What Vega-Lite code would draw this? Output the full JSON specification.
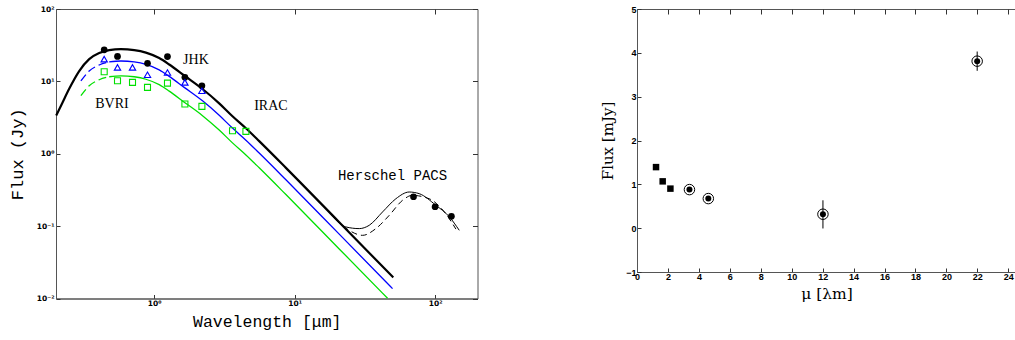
{
  "$schema": "https://vega.github.io/schema/vega-lite/v6.json",
  "background": "white",
  "padding": {"left": 7, "top": 4, "right": 0, "bottom": 0},
  "spacing": 121,
  "config": {
    "view": {"stroke": "#555", "strokeWidth": 1},
    "axis": {
      "grid": false,
      "labelFont": "DejaVu Sans",
      "labelFontWeight": "bold",
      "labelColor": "black",
      "labelFontSize": 7.5,
      "domainColor": "#555",
      "tickColor": "#333",
      "titleFontWeight": "normal",
      "titleColor": "black"
    }
  },
  "datasets": {
    "curves": [
      {"s": "black", "x": 0.2007, "y": 3.37},
      {"s": "black", "x": 0.2214, "y": 5.0},
      {"s": "black", "x": 0.2483, "y": 7.9},
      {"s": "black", "x": 0.2925, "y": 13.88},
      {"s": "black", "x": 0.3446, "y": 20.3},
      {"s": "black", "x": 0.406, "y": 24.6},
      {"s": "black", "x": 0.4783, "y": 27.06},
      {"s": "black", "x": 0.5794, "y": 27.9},
      {"s": "black", "x": 0.7208, "y": 27.06},
      {"s": "black", "x": 0.8727, "y": 25.0},
      {"s": "black", "x": 1.0853, "y": 21.05},
      {"s": "black", "x": 1.279, "y": 17.12},
      {"s": "black", "x": 1.635, "y": 12.06},
      {"s": "black", "x": 2.207, "y": 7.85},
      {"s": "black", "x": 2.901, "y": 4.97},
      {"s": "black", "x": 3.591, "y": 3.327},
      {"s": "black", "x": 4.495, "y": 2.25},
      {"s": "black", "x": 5.588, "y": 1.493},
      {"s": "black", "x": 8.659, "y": 0.6385},
      {"s": "black", "x": 20.74, "y": 0.1132},
      {"s": "black", "x": 50.24, "y": 0.01956},
      {"s": "blue_d", "x": 0.3008, "y": 10.14},
      {"s": "blue_d", "x": 0.3446, "y": 13.9},
      {"s": "blue_d", "x": 0.406, "y": 16.85},
      {"s": "blue_d", "x": 0.4783, "y": 18.54},
      {"s": "blue", "x": 0.4783, "y": 18.54},
      {"s": "blue", "x": 0.5794, "y": 19.11},
      {"s": "blue", "x": 0.7208, "y": 18.54},
      {"s": "blue", "x": 0.8727, "y": 17.13},
      {"s": "blue", "x": 1.0853, "y": 14.42},
      {"s": "blue", "x": 1.279, "y": 11.73},
      {"s": "blue", "x": 1.635, "y": 8.26},
      {"s": "blue", "x": 2.207, "y": 5.38},
      {"s": "blue", "x": 2.901, "y": 3.4},
      {"s": "blue", "x": 3.591, "y": 2.28},
      {"s": "blue", "x": 4.495, "y": 1.541},
      {"s": "blue", "x": 5.588, "y": 1.023},
      {"s": "blue", "x": 8.659, "y": 0.437},
      {"s": "blue", "x": 20.74, "y": 0.0775},
      {"s": "blue", "x": 49.7, "y": 0.0137},
      {"s": "green_d", "x": 0.3008, "y": 6.34},
      {"s": "green_d", "x": 0.3446, "y": 8.69},
      {"s": "green_d", "x": 0.406, "y": 10.53},
      {"s": "green_d", "x": 0.4783, "y": 11.58},
      {"s": "green", "x": 0.4783, "y": 11.58},
      {"s": "green", "x": 0.5794, "y": 11.94},
      {"s": "green", "x": 0.7208, "y": 11.58},
      {"s": "green", "x": 0.8727, "y": 10.7},
      {"s": "green", "x": 1.0853, "y": 9.01},
      {"s": "green", "x": 1.279, "y": 7.33},
      {"s": "green", "x": 1.635, "y": 5.16},
      {"s": "green", "x": 2.207, "y": 3.36},
      {"s": "green", "x": 2.901, "y": 2.127},
      {"s": "green", "x": 3.591, "y": 1.424},
      {"s": "green", "x": 4.495, "y": 0.963},
      {"s": "green", "x": 5.588, "y": 0.639},
      {"s": "green", "x": 8.659, "y": 0.273},
      {"s": "green", "x": 20.74, "y": 0.0484},
      {"s": "green", "x": 45.8, "y": 0.01007},
      {"s": "exc", "x": 17.6, "y": 0.157},
      {"s": "exc", "x": 23.1, "y": 0.0975},
      {"s": "exc", "x": 28.8, "y": 0.0924},
      {"s": "exc", "x": 33.9, "y": 0.1026},
      {"s": "exc", "x": 42.2, "y": 0.157},
      {"s": "exc", "x": 52.5, "y": 0.239},
      {"s": "exc", "x": 65.3, "y": 0.296},
      {"s": "exc", "x": 76.9, "y": 0.281},
      {"s": "exc", "x": 101.2, "y": 0.194},
      {"s": "exc", "x": 125.8, "y": 0.135},
      {"s": "exc", "x": 148.3, "y": 0.0875},
      {"s": "exc_d", "x": 17.6, "y": 0.157},
      {"s": "exc_d", "x": 24.4, "y": 0.0875},
      {"s": "exc_d", "x": 30.4, "y": 0.0746},
      {"s": "exc_d", "x": 37.8, "y": 0.0924},
      {"s": "exc_d", "x": 47.1, "y": 0.141},
      {"s": "exc_d", "x": 58.5, "y": 0.227},
      {"s": "exc_d", "x": 68.6, "y": 0.266},
      {"s": "exc_d", "x": 90.6, "y": 0.239},
      {"s": "exc_d", "x": 115.9, "y": 0.158},
      {"s": "exc_d", "x": 140.4, "y": 0.091}
    ],
    "phot": [
      {"c": "black", "x": 0.4406, "y": 27.33},
      {"c": "black", "x": 0.548, "y": 22.14},
      {"c": "black", "x": 0.896, "y": 17.73},
      {"c": "black", "x": 1.243, "y": 22.0},
      {"c": "black", "x": 1.654, "y": 11.36},
      {"c": "black", "x": 2.185, "y": 8.7},
      {"c": "black", "x": 70.08, "y": 0.2547},
      {"c": "black", "x": 99.8, "y": 0.1853},
      {"c": "black", "x": 130.4, "y": 0.1366},
      {"c": "blue", "x": 0.4406, "y": 20.3},
      {"c": "blue", "x": 0.548, "y": 15.61},
      {"c": "blue", "x": 0.7008, "y": 15.61},
      {"c": "blue", "x": 0.896, "y": 12.33},
      {"c": "blue", "x": 1.243, "y": 13.23},
      {"c": "blue", "x": 1.654, "y": 9.69},
      {"c": "blue", "x": 2.185, "y": 7.42},
      {"c": "green", "x": 0.4406, "y": 13.57},
      {"c": "green", "x": 0.548, "y": 10.19},
      {"c": "green", "x": 0.7008, "y": 9.69},
      {"c": "green", "x": 0.896, "y": 8.26},
      {"c": "green", "x": 1.243, "y": 9.47},
      {"c": "green", "x": 1.654, "y": 4.86},
      {"c": "green", "x": 2.185, "y": 4.52},
      {"c": "green", "x": 3.609, "y": 2.078},
      {"c": "green", "x": 4.495, "y": 2.04}
    ],
    "labels": [
      {"t": "JHK", "f": "serif", "x": 1.981, "y": 19.88},
      {"t": "BVRI", "f": "serif", "x": 0.5001, "y": 4.86},
      {"t": "IRAC", "f": "serif", "x": 6.77, "y": 4.52},
      {"t": "Herschel PACS", "f": "mono", "x": 49.7, "y": 0.497}
    ],
    "wise": [
      {"k": "sq", "x": 1.23, "y": 1.393},
      {"k": "sq", "x": 1.66, "y": 1.068},
      {"k": "sq", "x": 2.16, "y": 0.902},
      {"k": "c", "x": 3.39, "y": 0.88},
      {"k": "c", "x": 4.61, "y": 0.675},
      {"k": "c", "x": 12.02, "y": 0.318, "lo": -0.007, "hi": 0.636},
      {"k": "c", "x": 21.99, "y": 3.81, "lo": 3.59, "hi": 4.03}
    ]
  },
  "hconcat": [
    {
      "width": 421.5,
      "height": 289.5,
      "resolve": {"axis": {"x": "independent", "y": "independent"}},
      "layer": [
        {
          "data": {"name": "curves"},
          "transform": [{"filter": "datum.s == 'black'"}],
          "mark": {"type": "line", "color": "black", "strokeWidth": 2.2, "interpolate": "monotone"},
          "encoding": {
            "x": {"field": "x", "type": "quantitative", "scale": {"type": "log", "domain": [0.2, 200], "nice": false},
              "axis": {"orient": "bottom", "values": [1, 10, 100], "tickSize": -4, "labelPadding": 5, "labelFlush": false,
                "labelExpr": "datum.value >= 99 ? '10²' : datum.value >= 9 ? '10¹' : '10⁰'",
                "title": "Wavelength [μm]", "titleFont": "Liberation Mono", "titleFontSize": 16.5, "titlePadding": 6}},
            "y": {"field": "y", "type": "quantitative", "scale": {"type": "log", "domain": [0.01, 100], "nice": false},
              "axis": {"orient": "left", "values": [0.01, 0.1, 1, 10, 100], "tickSize": -4, "labelPadding": 6, "labelFlush": false,
                "labelExpr": "datum.value >= 99 ? '10²' : datum.value >= 9 ? '10¹' : datum.value >= 0.9 ? '10⁰' : datum.value >= 0.09 ? '10⁻¹' : '10⁻²'",
                "title": "Flux (Jy)", "titleFont": "Liberation Mono", "titleFontSize": 17, "titlePadding": 10}}
          }
        },
        {
          "data": {"name": "curves"},
          "transform": [{"filter": "datum.s == 'exc'"}],
          "mark": {"type": "line", "color": "black", "strokeWidth": 1, "interpolate": "monotone"},
          "encoding": {
            "x": {"field": "x", "type": "quantitative", "scale": {"type": "log", "domain": [0.2, 200], "nice": false}, "axis": null},
            "y": {"field": "y", "type": "quantitative", "scale": {"type": "log", "domain": [0.01, 100], "nice": false}, "axis": null}
          }
        },
        {
          "data": {"name": "curves"},
          "transform": [{"filter": "datum.s == 'exc_d'"}],
          "mark": {"type": "line", "color": "black", "strokeWidth": 1, "strokeDash": [6, 4], "interpolate": "monotone"},
          "encoding": {
            "x": {"field": "x", "type": "quantitative", "scale": {"type": "log", "domain": [0.2, 200], "nice": false}, "axis": null},
            "y": {"field": "y", "type": "quantitative", "scale": {"type": "log", "domain": [0.01, 100], "nice": false}, "axis": null}
          }
        },
        {
          "data": {"name": "curves"},
          "transform": [{"filter": "datum.s == 'blue'"}],
          "mark": {"type": "line", "color": "#0000ff", "strokeWidth": 1.3, "interpolate": "monotone"},
          "encoding": {
            "x": {"field": "x", "type": "quantitative", "scale": {"type": "log", "domain": [0.2, 200], "nice": false}, "axis": null},
            "y": {"field": "y", "type": "quantitative", "scale": {"type": "log", "domain": [0.01, 100], "nice": false}, "axis": null}
          }
        },
        {
          "data": {"name": "curves"},
          "transform": [{"filter": "datum.s == 'blue_d'"}],
          "mark": {"type": "line", "color": "#0000ff", "strokeWidth": 1.3, "strokeDash": [8, 4], "interpolate": "monotone"},
          "encoding": {
            "x": {"field": "x", "type": "quantitative", "scale": {"type": "log", "domain": [0.2, 200], "nice": false}, "axis": null},
            "y": {"field": "y", "type": "quantitative", "scale": {"type": "log", "domain": [0.01, 100], "nice": false}, "axis": null}
          }
        },
        {
          "data": {"name": "curves"},
          "transform": [{"filter": "datum.s == 'green'"}],
          "mark": {"type": "line", "color": "#00e000", "strokeWidth": 1.3, "interpolate": "monotone"},
          "encoding": {
            "x": {"field": "x", "type": "quantitative", "scale": {"type": "log", "domain": [0.2, 200], "nice": false}, "axis": null},
            "y": {"field": "y", "type": "quantitative", "scale": {"type": "log", "domain": [0.01, 100], "nice": false}, "axis": null}
          }
        },
        {
          "data": {"name": "curves"},
          "transform": [{"filter": "datum.s == 'green_d'"}],
          "mark": {"type": "line", "color": "#00e000", "strokeWidth": 1.3, "strokeDash": [8, 4], "interpolate": "monotone"},
          "encoding": {
            "x": {"field": "x", "type": "quantitative", "scale": {"type": "log", "domain": [0.2, 200], "nice": false}, "axis": null},
            "y": {"field": "y", "type": "quantitative", "scale": {"type": "log", "domain": [0.01, 100], "nice": false}, "axis": null}
          }
        },
        {
          "data": {"name": "phot"},
          "transform": [{"filter": "datum.c == 'black'"}],
          "mark": {"type": "point", "shape": "circle", "filled": true, "color": "black", "size": 45, "opacity": 1},
          "encoding": {
            "x": {"field": "x", "type": "quantitative", "scale": {"type": "log", "domain": [0.2, 200], "nice": false}, "axis": null},
            "y": {"field": "y", "type": "quantitative", "scale": {"type": "log", "domain": [0.01, 100], "nice": false}, "axis": null}
          }
        },
        {
          "data": {"name": "phot"},
          "transform": [{"filter": "datum.c == 'blue'"}],
          "mark": {"type": "point", "shape": "triangle-up", "filled": false, "color": "#0000ff", "size": 40, "strokeWidth": 1.1, "opacity": 1},
          "encoding": {
            "x": {"field": "x", "type": "quantitative", "scale": {"type": "log", "domain": [0.2, 200], "nice": false}, "axis": null},
            "y": {"field": "y", "type": "quantitative", "scale": {"type": "log", "domain": [0.01, 100], "nice": false}, "axis": null}
          }
        },
        {
          "data": {"name": "phot"},
          "transform": [{"filter": "datum.c == 'green'"}],
          "mark": {"type": "point", "shape": "square", "filled": false, "color": "#00e000", "size": 36, "strokeWidth": 1.1, "opacity": 1},
          "encoding": {
            "x": {"field": "x", "type": "quantitative", "scale": {"type": "log", "domain": [0.2, 200], "nice": false}, "axis": null},
            "y": {"field": "y", "type": "quantitative", "scale": {"type": "log", "domain": [0.01, 100], "nice": false}, "axis": null}
          }
        },
        {
          "data": {"name": "labels"},
          "transform": [{"filter": "datum.f == 'serif'"}],
          "mark": {"type": "text", "font": "Liberation Serif", "fontSize": 14, "color": "black", "align": "center", "baseline": "middle"},
          "encoding": {
            "x": {"field": "x", "type": "quantitative", "scale": {"type": "log", "domain": [0.2, 200], "nice": false}, "axis": null},
            "y": {"field": "y", "type": "quantitative", "scale": {"type": "log", "domain": [0.01, 100], "nice": false}, "axis": null},
            "text": {"field": "t"}
          }
        },
        {
          "data": {"name": "labels"},
          "transform": [{"filter": "datum.f == 'mono'"}],
          "mark": {"type": "text", "font": "Liberation Mono", "fontSize": 14, "color": "black", "align": "center", "baseline": "middle"},
          "encoding": {
            "x": {"field": "x", "type": "quantitative", "scale": {"type": "log", "domain": [0.2, 200], "nice": false}, "axis": null},
            "y": {"field": "y", "type": "quantitative", "scale": {"type": "log", "domain": [0.01, 100], "nice": false}, "axis": null},
            "text": {"field": "t"}
          }
        },
        {
          "data": {"name": "phot"},
          "mark": {"type": "point", "opacity": 0},
          "encoding": {
            "x": {"field": "x", "type": "quantitative", "scale": {"type": "log", "domain": [0.2, 200], "nice": false},
              "axis": {"orient": "top", "values": [1, 10, 100], "labels": false, "title": null, "tickSize": -5, "domain": false}},
            "y": {"field": "y", "type": "quantitative", "scale": {"type": "log", "domain": [0.01, 100], "nice": false},
              "axis": {"orient": "right", "values": [0.01, 0.1, 1, 10, 100], "labels": false, "title": null, "tickSize": -5, "domain": false}}
          }
        }
      ]
    },
    {
      "width": 379,
      "height": 263,
      "data": {"name": "wise"},
      "resolve": {"axis": {"x": "independent", "y": "independent"}},
      "layer": [
        {
          "transform": [{"filter": "isValid(datum.lo)"}],
          "mark": {"type": "rule", "color": "black", "strokeWidth": 1},
          "encoding": {
            "x": {"field": "x", "type": "quantitative", "scale": {"domain": [0, 24.5], "nice": false, "zero": false},
              "axis": {"orient": "bottom", "values": [0, 2, 4, 6, 8, 10, 12, 14, 16, 18, 20, 22, 24], "tickSize": -4, "labelPadding": 4,
                "labelFont": "Liberation Sans", "labelFontSize": 9, "labelFlush": false,
                "title": "μ [λm]", "titleFont": "DejaVu Serif", "titleFontSize": 15.5, "titlePadding": 5}},
            "y": {"field": "lo", "type": "quantitative", "scale": {"domain": [-1, 5], "nice": false, "zero": false},
              "axis": {"orient": "left", "values": [-1, 0, 1, 2, 3, 4, 5], "tickSize": -4, "labelPadding": 5,
                "labelFont": "Liberation Sans", "labelFontSize": 9, "labelFlush": false,
                "title": "Flux [mJy]", "titleFont": "DejaVu Serif", "titleFontSize": 15, "titlePadding": 10}},
            "y2": {"field": "hi"}
          }
        },
        {
          "transform": [{"filter": "datum.k == 'sq'"}],
          "mark": {"type": "point", "shape": "square", "filled": true, "color": "black", "size": 42, "opacity": 1},
          "encoding": {
            "x": {"field": "x", "type": "quantitative", "scale": {"domain": [0, 24.5], "nice": false, "zero": false}, "axis": null},
            "y": {"field": "y", "type": "quantitative", "scale": {"domain": [-1, 5], "nice": false, "zero": false}, "axis": null}
          }
        },
        {
          "transform": [{"filter": "datum.k == 'c'"}],
          "mark": {"type": "point", "shape": "circle", "filled": false, "color": "black", "size": 110, "strokeWidth": 1, "opacity": 1},
          "encoding": {
            "x": {"field": "x", "type": "quantitative", "scale": {"domain": [0, 24.5], "nice": false, "zero": false}, "axis": null},
            "y": {"field": "y", "type": "quantitative", "scale": {"domain": [-1, 5], "nice": false, "zero": false}, "axis": null}
          }
        },
        {
          "transform": [{"filter": "datum.k == 'c'"}],
          "mark": {"type": "point", "shape": "circle", "filled": true, "color": "black", "size": 36, "opacity": 1},
          "encoding": {
            "x": {"field": "x", "type": "quantitative", "scale": {"domain": [0, 24.5], "nice": false, "zero": false},
              "axis": {"orient": "top", "values": [0, 2, 4, 6, 8, 10, 12, 14, 16, 18, 20, 22, 24], "labels": false, "title": null, "tickSize": -5, "domain": false}},
            "y": {"field": "y", "type": "quantitative", "scale": {"domain": [-1, 5], "nice": false, "zero": false}, "axis": null}
          }
        }
      ]
    }
  ]
}
